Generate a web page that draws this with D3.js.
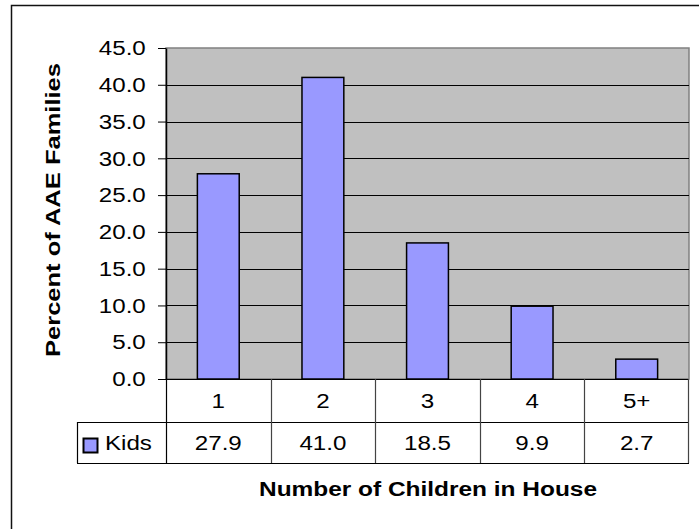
<!DOCTYPE html>
<html>
<head>
<meta charset="utf-8">
<script src="https://cdn.jsdelivr.net/npm/d3@7"></script>
<style>
  body { margin: 0; background: #fff; }
  svg { display: block; font-family: "Liberation Sans", Arial, sans-serif; }
</style>
</head>
<body>
<svg id="chart" width="699" height="529"></svg>
<script>
// data
var categories = ["1", "2", "3", "4", "5+"];
var kids = [27.9, 41.0, 18.5, 9.9, 2.7];
var yTicks = [0, 5, 10, 15, 20, 25, 30, 35, 40, 45];
var seriesName = "Kids";

var svg = d3.select("#chart");
var SX = 1.15; // the original text is drawn a bit wide

var plot = {left: 166, right: 689, top: 48, bottom: 379},
	rowH = [379, 422, 463],
	legendLeft = 77;

var x = d3.scaleBand()
	.domain(categories)
	.range([plot.left, plot.right])
	.paddingInner(0.6)
	.paddingOuter(0.3);

var y = d3.scaleLinear()
	.domain([0, 45])
	.range([plot.bottom, plot.top]);

// outer frame (cropped at right and bottom)
svg.append("rect")
	.attr("x", 11.5).attr("y", 5.5)
	.attr("width", 720).attr("height", 560)
	.attr("fill", "#fff")
	.attr("stroke", "#111")
	.attr("stroke-width", 1.5);

// plot area
svg.append("rect")
	.attr("x", plot.left).attr("y", plot.top)
	.attr("width", plot.right - plot.left).attr("height", plot.bottom - plot.top)
	.attr("fill", "#c0c0c0")
	.attr("stroke", "#808080")
	.attr("stroke-width", 1.5);

// gridlines
svg.append("g")
	.selectAll("line")
	.data(yTicks.filter(function(d) { return d > 0 && d < 45; }))
	.enter().append("line")
		.attr("x1", plot.left).attr("x2", plot.right)
		.attr("y1", function(d) { return Math.round(y(d)) + 0.5; })
		.attr("y2", function(d) { return Math.round(y(d)) + 0.5; })
		.attr("stroke", "#000")
		.attr("stroke-width", 1);

// bars
svg.append("g")
	.selectAll("rect")
	.data(kids)
	.enter().append("rect")
		.attr("x", function(d, i) { return x(categories[i]); })
		.attr("y", function(d) { return y(d); })
		.attr("width", x.bandwidth())
		.attr("height", function(d) { return y(0) - y(d); })
		.attr("fill", "#9999ff")
		.attr("stroke", "#000")
		.attr("stroke-width", 1.5);

// y axis
var yAxis = svg.append("g")
	.attr("transform", "translate(" + plot.left + ",0)")
	.call(d3.axisLeft(y)
		.tickValues(yTicks)
		.tickFormat(d3.format(".1f"))
		.tickSize(8)
		.tickPadding(9.6)
		.tickSizeOuter(0));
yAxis.select(".domain").attr("stroke", "#000").attr("stroke-width", 1.5);
yAxis.selectAll(".tick line").attr("stroke", "#000");
yAxis.selectAll(".tick text")
	.attr("font-size", 21)
	.attr("font-family", "Liberation Sans, Arial, sans-serif")
	.attr("fill", "#000")
	.attr("transform", "scale(" + SX + ",1)");

// data table
var table = svg.append("g");
function hline(x1, x2, yy, color) {
	table.append("line")
		.attr("x1", x1).attr("x2", x2)
		.attr("y1", yy + 0.5).attr("y2", yy + 0.5)
		.attr("stroke", color).attr("stroke-width", 1.2);
}
function vline(xx, y1, y2, color) {
	table.append("line")
		.attr("x1", xx + 0.5).attr("x2", xx + 0.5)
		.attr("y1", y1).attr("y2", y2)
		.attr("stroke", color).attr("stroke-width", 1.2);
}
hline(plot.left - 8, plot.right, rowH[0], "#000");
hline(legendLeft, plot.right, rowH[1], "#000");
hline(legendLeft, plot.right, rowH[2], "#000");
vline(legendLeft, rowH[1], rowH[2], "#000");
var edges = d3.range(categories.length + 1).map(function(i) { return plot.left + i * (plot.right - plot.left) / categories.length; });
edges.forEach(function(e, i) {
	vline(Math.round(e) - (i === edges.length - 1 ? 1 : 0), rowH[0], rowH[2], i === 0 ? "#000" : "#444");
});

function stext(px, py, txt, anchor, size) {
	table.append("text")
		.attr("transform", "translate(" + px + "," + py + ") scale(" + SX + ",1)")
		.attr("text-anchor", anchor)
		.attr("font-size", size)
		.attr("fill", "#000")
		.text(txt);
}
categories.forEach(function(c, i) {
	var cx = x(c) + x.bandwidth() / 2;
	stext(cx, 408, c, "middle", 21);
	stext(cx, 450, kids[i].toFixed(1), "middle", 21);
});

// legend key in table
table.append("rect")
	.attr("x", 83.5).attr("y", 438.5)
	.attr("width", 14).attr("height", 14)
	.attr("fill", "#9999ff")
	.attr("stroke", "#000")
	.attr("stroke-width", 2);
stext(105, 450, seriesName, "start", 21);

// axis titles
svg.append("text")
	.attr("x", 428).attr("y", 496)
	.attr("text-anchor", "middle")
	.attr("font-size", 20)
	.attr("font-weight", "bold")
	.attr("textLength", 338)
	.attr("lengthAdjust", "spacingAndGlyphs")
	.text("Number of Children in House");

svg.append("text")
	.attr("transform", "translate(60,210) rotate(-90)")
	.attr("text-anchor", "middle")
	.attr("font-size", 21)
	.attr("font-weight", "bold")
	.attr("textLength", 294)
	.attr("lengthAdjust", "spacingAndGlyphs")
	.text("Percent of AAE Families");
</script>
</body>
</html>
